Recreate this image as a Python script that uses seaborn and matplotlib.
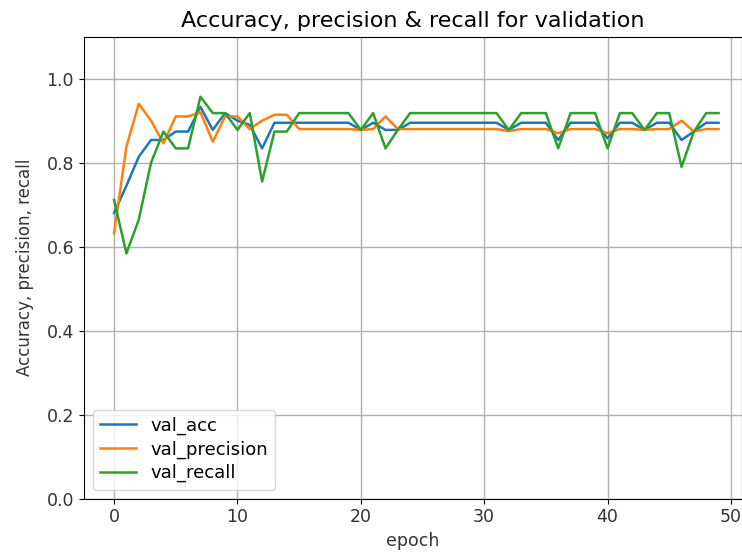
import matplotlib
matplotlib.use('Agg')
import matplotlib.pyplot as plt
import seaborn as sns
import pandas as pd
import numpy as np

# --- Data ---
epochs = list(range(50))

val_acc = [0.68, 0.745, 0.814, 0.854, 0.854, 0.874, 0.874, 0.933, 0.878, 0.918,
           0.90, 0.89, 0.834, 0.895, 0.895, 0.895, 0.895, 0.895, 0.895, 0.895,
           0.878, 0.895, 0.878, 0.878, 0.895, 0.895, 0.895, 0.895, 0.895, 0.895,
           0.895, 0.895, 0.878, 0.895, 0.895, 0.895, 0.854, 0.895, 0.895, 0.895,
           0.858, 0.895, 0.895, 0.878, 0.895, 0.895, 0.854, 0.874, 0.895, 0.895]

val_precision = [0.632, 0.838, 0.94, 0.90, 0.846, 0.91, 0.91, 0.92, 0.85, 0.91,
                 0.91, 0.88, 0.90, 0.914, 0.914, 0.88, 0.88, 0.88, 0.88, 0.88,
                 0.878, 0.88, 0.91, 0.88, 0.88, 0.88, 0.88, 0.88, 0.88, 0.88,
                 0.88, 0.88, 0.875, 0.88, 0.88, 0.88, 0.87, 0.88, 0.88, 0.88,
                 0.87, 0.88, 0.88, 0.878, 0.88, 0.88, 0.90, 0.874, 0.88, 0.88]

val_recall = [0.711, 0.584, 0.664, 0.80, 0.874, 0.834, 0.834, 0.957, 0.918, 0.918,
              0.878, 0.918, 0.755, 0.874, 0.874, 0.918, 0.918, 0.918, 0.918, 0.918,
              0.878, 0.918, 0.834, 0.878, 0.918, 0.918, 0.918, 0.918, 0.918, 0.918,
              0.918, 0.918, 0.878, 0.918, 0.918, 0.918, 0.834, 0.918, 0.918, 0.918,
              0.834, 0.918, 0.918, 0.878, 0.918, 0.918, 0.79, 0.874, 0.918, 0.918]

series_names = ['val_acc', 'val_precision', 'val_recall']

df = pd.DataFrame({
    'epoch': epochs * 3,
    'value': val_acc + val_precision + val_recall,
    'metric': np.repeat(series_names, len(epochs)),
})

# --- Plot ---
fig = plt.figure(figsize=(7.42, 5.52), dpi=100)
ax = fig.add_axes([0.113, 0.0966, 0.887, 0.837])

sns.lineplot(data=df, x='epoch', y='value', hue='metric', hue_order=series_names,
             palette=['#1f77b4', '#ff7f0e', '#2ca02c'], linewidth=1.8, ax=ax)

# правая граница чуть дальше, чтобы подпись "50" не обрезалась
ax.set_xlim(-2.45, 50.9)
ax.set_ylim(0, 1.1)
ax.set_xticks([0, 10, 20, 30, 40, 50])
ax.set_yticks([0.0, 0.2, 0.4, 0.6, 0.8, 1.0])
ax.grid(True, color='#b0b0b0', linewidth=1.0)
ax.set_axisbelow(True)

ax.set_title('Accuracy, precision & recall for validation', fontsize=16, pad=7)
ax.set_xlabel('epoch', fontsize=12.5, color='#333333')
ax.set_ylabel('Accuracy, precision, recall', fontsize=12, labelpad=9, color='#333333')
ax.tick_params(labelsize=12.5, labelcolor='#333333')
ax.legend(loc='lower left', fontsize=13, labelspacing=0.3)

plt.savefig('out.png', dpi=100)
plt.close()
